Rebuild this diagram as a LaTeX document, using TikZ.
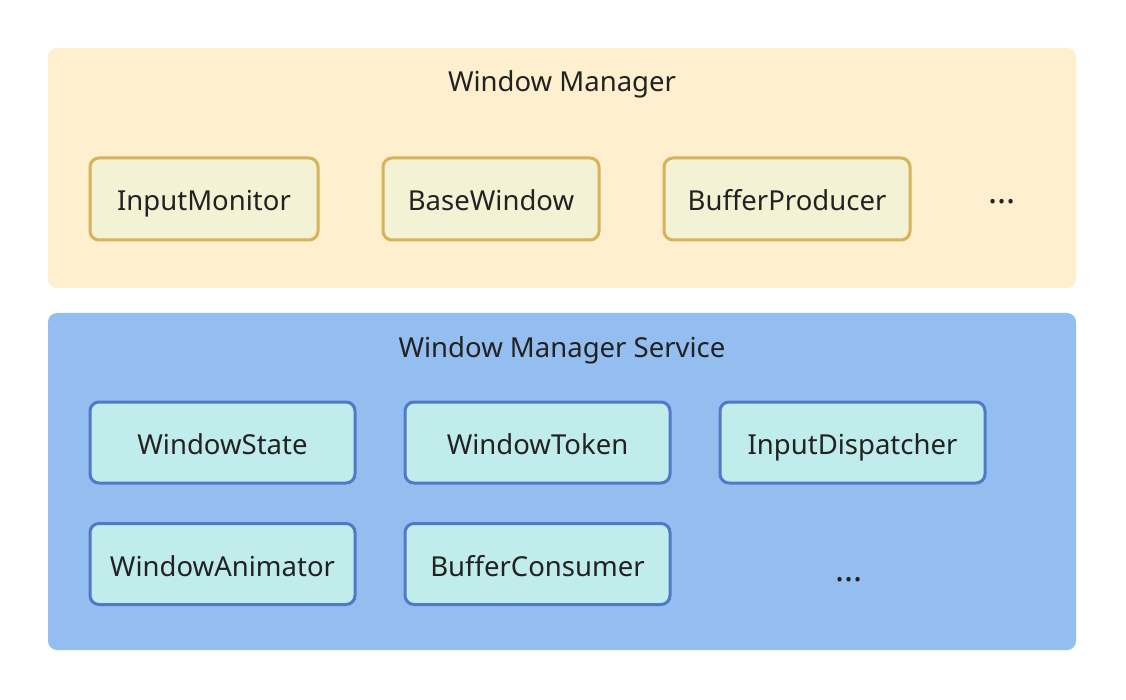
\documentclass[tikz,border=0pt]{standalone}
\usepackage{fontspec}
\setmainfont{Noto Sans}
\definecolor{wmfill}{HTML}{FEF0CE}
\definecolor{ybox}{HTML}{F4F2D5}
\definecolor{yborder}{HTML}{D6B35A}
\definecolor{wmsfill}{HTML}{94BEF0}
\definecolor{bbox}{HTML}{C0ECEC}
\definecolor{bborder}{HTML}{5278C8}
\definecolor{txt}{HTML}{222222}
\begin{document}
\begin{tikzpicture}[x=1pt,y=-1pt,
  panel/.style={rounded corners=9pt},
  comp/.style={line width=3pt,rounded corners=9pt,font=\fontsize{27.5}{32}\selectfont,text=txt,inner sep=0pt,text height=26pt,text depth=2pt},
  ycomp/.style={comp,draw=yborder,fill=ybox},
  bcomp/.style={comp,draw=bborder,fill=bbox},
  ttl/.style={font=\fontsize{27.5}{32}\selectfont,text=txt,anchor=base},
  dots/.style={font=\fontsize{34}{38}\selectfont,text=txt,anchor=base}]
\useasboundingbox[fill=white] (0,0) rectangle (1126,700);
% Window Manager panel
\fill[wmfill,panel] (48,48) rectangle (1076,288);
\node[ttl] (wmt) at (562,92) {Window Manager};
\node[ycomp,minimum width=228pt,minimum height=82pt] (im) at (204,199) {InputMonitor};
\node[ycomp,minimum width=216pt,minimum height=82pt] (bw) at (491,199) {BaseWindow};
\node[ycomp,minimum width=246pt,minimum height=82pt] (bp) at (787,199) {BufferProducer};
\node[dots] (d1) at (1002,204) {...};
% Window Manager Service panel
\fill[wmsfill,panel] (48,313) rectangle (1076,650);
\node[ttl] (wmst) at (562,357) {Window Manager Service};
\node[bcomp,minimum width=265pt,minimum height=81pt] (ws) at (222.5,442.5) {WindowState};
\node[bcomp,minimum width=265pt,minimum height=81pt] (wt) at (537.5,442.5) {WindowToken};
\node[bcomp,minimum width=265pt,minimum height=81pt] (id) at (852.5,442.5) {InputDispatcher};
\node[bcomp,minimum width=265pt,minimum height=81pt] (wa) at (222.5,564) {WindowAnimator};
\node[bcomp,minimum width=265pt,minimum height=81pt] (bc) at (537.5,564) {BufferConsumer};
\node[dots] (d2) at (849,581) {...};
\end{tikzpicture}
\end{document}
